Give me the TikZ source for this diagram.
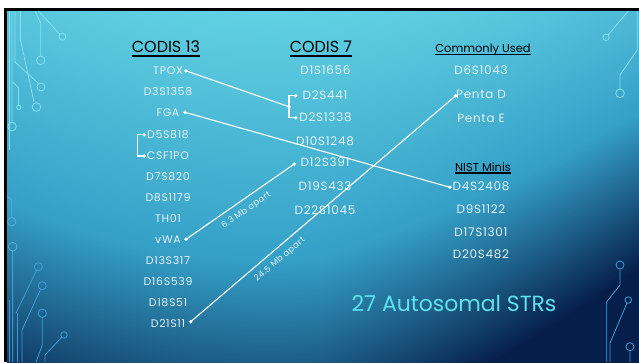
\documentclass[tikz,border=0pt]{standalone}
\usepackage{fontspec}
\setmainfont{Poppins}
\newfontfamily\trackfont[LetterSpace=6]{Poppins}

\definecolor{itemc}{HTML}{E4F3F8}
\definecolor{titlec}{HTML}{5EE2EE}
\definecolor{circA}{HTML}{86E0EE}
\definecolor{circB}{HTML}{3C9ED8}

% slide background: light cyan at the top centre, deep navy toward the
% bottom right corner (u = x across, v = depth from the top)
\pgfdeclarefunctionalshading{slidebg}{\pgfpoint{0bp}{0bp}}{\pgfpoint{660bp}{375bp}}{}{
  375 div 1 exch sub 1.033 mul 0.033 sub
  exch 637 div exch
  1 index 0.42 sub dup mul
  1 index 1.05 mul add
  2 index 0.5 sub dup 0 lt {pop 0} if
  2 index mul 0.6 mul add
  exch pop exch pop
  dup 1.3 gt {pop 1.3} if
  dup 0 lt {pop 0} if
  dup 0.72 sub dup 0 lt {pop 0} if
  1 index -0.24 mul 0.38 add 1 index -0.08 mul add
  2 index -0.27 mul 0.82 add 2 index -0.6 mul add
  3 index -0.15 mul 0.89 add 3 index -0.7 mul add
  5 -2 roll pop pop
}

\tikzset{
  item/.style={text=itemc, font=\trackfont\fontsize{11}{11}\selectfont, inner sep=0pt, anchor=center},
  itemb/.style={text=itemc, font=\trackfont\fontsize{12}{12}\selectfont, inner sep=0pt, anchor=center},
  head/.style={text=black, inner sep=0pt, anchor=base},
  uline/.style={draw=black, line width=1.8bp},
  conn/.style={draw=white, line width=1.1bp},
  dot/.style={fill=white},
  gap/.style={text=itemc, font=\trackfont\fontsize{8.5}{8.5}\selectfont, inner sep=6bp},
  circ/.style={line width=0.8bp},
}

\begin{document}
\begin{tikzpicture}[x=1bp,y=-1bp]
\useasboundingbox (0,0) rectangle (639,362);

% page margin
\fill[white] (0,0) rectangle (639,362);

% slide background
\begin{scope}
  \clip (7,11) rectangle (639,362);
  \node[inner sep=0pt, outer sep=0pt, anchor=south west] (bg) at (0,374) {\pgfuseshading{slidebg}};
\end{scope}

% black slide frame along the top and left edges
\fill[black] (4,8) rectangle (639,11);
\fill[black] (4,8) rectangle (7,362);

% circuit traces, left side
\begin{scope}[circ, draw=circA]
  \draw (9,11) -- (9,150);
  \draw (12,11) -- (12,122) (12,126.5) circle[radius=4.3];
  \draw (15,11) -- (15,62) -- (38,83) (41,87) circle[radius=4];
  \draw (20.5,11) -- (20.5,40) -- (34,102) (36.5,107) circle[radius=4.3];
  \draw (35,11) -- (40.7,23) -- (40.7,56) (40.7,60.3) circle[radius=4.3];
  \draw (38.5,11) -- (59.5,34) (62.3,36.7) circle[radius=3.5];
  \draw (13,82) -- (18.5,88) -- (18.5,105) (18.8,107.3) circle[radius=2.2];
\end{scope}
\begin{scope}[circ, draw=circB!70!circA]
  \draw (7,196) -- (11.7,200) -- (11.7,217.5) (11.7,221.7) circle[radius=4.2];
  \draw (12.7,251) -- (12.7,362) (12.7,246.7) circle[radius=4.3];
\end{scope}
\begin{scope}[circ, draw=circB]
  \draw (9,300) -- (9,362);
  \draw (16,313) -- (36.5,270.5) (38.3,266.7) circle[radius=4];
  \draw (17,362) -- (17,313);
  \draw (22,362) -- (22,330) -- (40.5,289.5) (42.3,285.7) circle[radius=4];
  \draw (42.3,317.5) -- (42.3,345) -- (36,362) (42.3,313.3) circle[radius=4.2];
  \draw (61.5,337.5) -- (45,355) -- (45,362) (64,335) circle[radius=3.3];
\end{scope}

% circuit traces, right side
\begin{scope}[circ, draw=circA]
  \draw (628.3,11) -- (608.5,34.5) (606,37.3) circle[radius=3.2];
  \draw (637.3,11) -- (637.3,50) -- (620,75) -- (620,89) (620,93.3) circle[radius=4.3];
\end{scope}
\begin{scope}[circ, draw=circB]
  \draw (620,269) -- (620,285) -- (606.7,301.7) -- (606.7,362) (620,265) circle[radius=4];
  \draw (627,303) -- (610,343) -- (610,362) (628.3,300) circle[radius=3.3];
  \draw (630,350.7) -- (630,362) (630,346.7) circle[radius=4];
\end{scope}

% headers
\node[head, font=\fontsize{16}{16}\selectfont] (h13) at (166,52) {CODIS 13};
\draw[uline] ([yshift=-4bp]h13.base west) -- ([yshift=-4bp]h13.base east);
\node[head, font=\fontsize{16}{16}\selectfont] (h7) at (321,52) {CODIS 7};
\draw[uline] ([yshift=-4bp]h7.base west) -- ([yshift=-4bp]h7.base east);
\node[head, font=\fontsize{11.5}{11.5}\selectfont] (hcu) at (483,52) {Commonly Used};
\draw[uline, line width=1.4bp] ([yshift=-2.3bp]hcu.base west) -- ([yshift=-2.3bp]hcu.base east);
\node[head, font=\fontsize{11.5}{11.5}\selectfont] (hnm) at (483,171) {NIST Minis};
\draw[uline, line width=1.4bp] ([yshift=-2bp]hnm.base west) -- ([yshift=-2bp]hnm.base east);

% CODIS 13 loci
\node[item] (tpox) at (168,70.7) {TPOX};
\node[item] (d3)   at (168,91.7) {D3S1358};
\node[item] (fga)  at (168,112.7) {FGA};
\node[item] (d5)   at (168,134.5) {D5S818};
\node[item] (csf)  at (168,155.8) {CSF1PO};
\node[item] (d7)   at (168,176.7) {D7S820};
\node[item] (d8)   at (168,197.5) {D8S1179};
\node[item] (th01) at (168,218.8) {TH01};
\node[item] (vwa)  at (168,239.8) {vWA};
\node[item] (d13)  at (168,260.7) {D13S317};
\node[item] (d16)  at (168,281.8) {D16S539};
\node[item] (d18)  at (168,302.8) {D18S51};
\node[item] (d21)  at (168,323.8) {D21S11};

% CODIS 7 loci
\node[itemb] (d1)    at (325.5,70) {D1S1656};
\node[itemb] (d2a)   at (325,95.5) {D2S441};
\node[itemb] (d2b)   at (325.5,117.7) {D2S1338};
\node[itemb] (d10)   at (325,141) {D10S1248};
\node[itemb] (d12)   at (325,162) {D12S391};
\node[itemb] (d19)   at (325,186.5) {D19S433};
\node[itemb] (d22)   at (325,210) {D22S1045};

% commonly used and NIST mini loci
\node[itemb] (d6)    at (481,70) {D6S1043};
\node[itemb] (pd)    at (481,94.5) {Penta D};
\node[itemb] (pe)    at (481,118.3) {Penta E};
\node[itemb] (d4)    at (481,186.7) {D4S2408};
\node[itemb] (d9)    at (481,209.5) {D9S1122};
\node[itemb] (d17)   at (481,231.7) {D17S1301};
\node[itemb] (d20)   at (481,254.3) {D20S482};

% summary
\node[text=titlec, font=\fontsize{22}{22}\selectfont, inner sep=0pt] (sum) at (454,303.5) {27 Autosomal STRs};

% connector end points
\coordinate (pTPOX) at (185.7,70.7);
\coordinate (pFGA)  at (185,112.3);
\coordinate (pVWA)  at (186,239.3);
\coordinate (pD21)  at (190.7,321.7);
\coordinate (pD5)   at (144.3,134.7);
\coordinate (pCSF)  at (144.3,156);
\coordinate (jD5)   at (137.3,145);
\coordinate (jD2)   at (289,106.7);
\coordinate (pD2a)  at (295.7,95.7);
\coordinate (pD2b)  at (295.7,117.7);
\coordinate (pD12)  at (294.3,164);
\coordinate (pPD)   at (455.7,95.7);
\coordinate (pD4)   at (450,187.3);

% connectors
\draw[conn] (pTPOX) -- (jD2);
\draw[conn] (pD2a) -| (jD2) |- (pD2b);
\draw[conn] (pD5) -| (jD5) |- (pCSF);
\draw[conn] (pFGA) -- (pD4);
\draw[conn] (pVWA) -- node[gap, midway, below, sloped] {6.3 Mb apart} (pD12);
\draw[conn] (pD21) -- node[gap, pos=0.31, below, sloped] {24.5 Mb apart} (pPD);

\foreach \p in {pTPOX,pFGA,pVWA,pD21,pD5,pCSF,jD2,pD2a,pD2b,pD12,pPD,pD4}
  \fill[dot] (\p) circle[radius=1.9];
\end{tikzpicture}
\end{document}
